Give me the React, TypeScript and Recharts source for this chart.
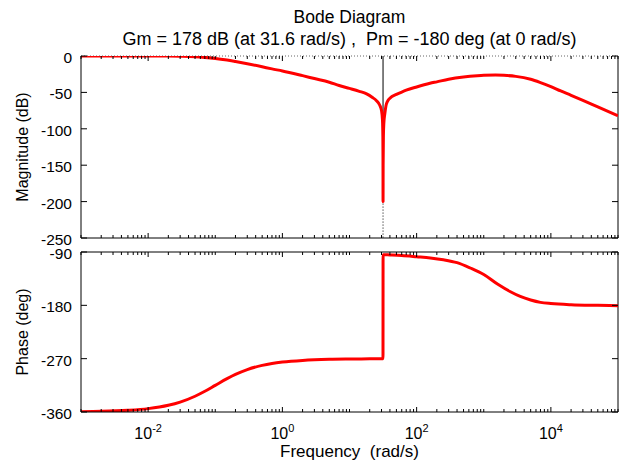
import React from 'react';
import { LineChart, Line, XAxis, YAxis, ReferenceLine } from 'recharts';

// ---- data ----
const magFreq = [
  0.001, 0.002, 0.005, 0.01, 0.02, 0.03, 0.05, 0.07, 0.1, 0.15, 0.2, 0.3, 0.5, 0.7,
  1, 2, 3, 5, 7, 10, 14, 18, 22, 25, 28, 30, 31, 31.4, 31.55, 31.62, 31.7, 32, 32.5,
  33.5, 35, 37, 40, 50, 60, 70, 100, 158, 200, 300, 500, 800, 1000, 1500, 2000, 3000,
  5000, 7000, 10000, 14000, 20000, 30000, 50000, 100000,
];
const magDb = [
  0, 0, -0.01, -0.04, -0.17, -0.4, -1.0, -1.9, -3.3, -5.6, -7.6, -10.6, -14.8, -17.7,
  -20.5, -27, -31, -36, -40.5, -44.5, -48.5, -52, -57, -61, -67, -75, -88, -110, -140, -200, -150, -110, -92,
  -80, -68, -62, -58, -52.7, -49.5, -47, -42.5, -37.5, -35.5, -32, -29, -27.2, -26.6, -26.2, -26.6, -28,
  -32, -36.5, -42, -48, -54, -61, -70, -82,
];
const phaseFreq = [
  0.001, 0.002, 0.005, 0.01, 0.02, 0.03, 0.05, 0.07, 0.1, 0.15, 0.2, 0.3, 0.5, 0.7,
  1, 2, 3, 5, 10, 20, 31.55, 31.65, 40, 60, 100, 160, 250, 400, 630, 1000, 1600, 2500,
  3500, 5000, 7000, 10000, 20000, 50000, 100000,
];
const phaseDeg = [
  -359.4, -358.9, -357.1, -354.3, -348.7, -343.3, -333.4, -325, -315, -303.7, -296.6, -288.4, -281.3, -278.1,
  -275.7, -272.9, -271.9, -271.1, -270.6, -270.3, -270.2, -94.5, -95, -96, -98, -100, -103, -108, -117, -128, -144, -157,
  -165, -171, -175, -177, -179, -180, -180.5,
];
const magTicks = [0, -50, -100, -150, -200, -250];
const phaseTicks = [-90, -180, -270, -360];
const decades = [-3, -2, -1, 0, 1, 2, 3, 4];
const labeledDecades = [-2, 0, 2, 4];
const minorMultipliers = [1, 2, 3, 4, 5, 6, 7, 8, 9];
const crossoverFreq = 31.6;
const gainAtCrossover = -178;
const titleText = 'Bode Diagram';
const subtitleText = 'Gm = 178 dB (at 31.6 rad/s) ,  Pm = -180 deg (at 0 rad/s)';
const magLabel = 'Magnitude (dB)';
const phaseLabel = 'Phase (deg)';
const freqLabel = 'Frequency  (rad/s)';

// ---- layout ----
const W = 626;
const H = 463;
const PLOT_L = 81;
const PLOT_R = 618;
const MAG_T = 56;
const MAG_B = 238;
const PH_T = 252;
const PH_B = 412;
const FONT = '"Liberation Sans", Arial, Helvetica, sans-serif';

const magData = magFreq.map((f, i) => ({ f, v: magDb[i] }));
const phaseData = phaseFreq.map((f, i) => ({ f, v: phaseDeg[i] }));
const freqTicks = decades
  .flatMap((n) => minorMultipliers.map((k) => Number((k * Math.pow(10, n)).toPrecision(6))))
  .concat([100000]);

const makeXTick = (top: number, showLabels: boolean) => (props: any) => {
  const { x, y, payload } = props;
  const v = payload.value;
  const lg = Math.log10(v);
  const dec = Math.round(lg);
  const isDecade = Math.abs(lg - dec) < 1e-6;
  const major = isDecade && dec % 2 === 0;
  const len = major ? 5 : 3;
  return (
    <g>
      <line x1={x} x2={x} y1={y} y2={y - len} stroke="#000" strokeWidth={1} />
      <line x1={x} x2={x} y1={top} y2={top + len} stroke="#000" strokeWidth={1} />
      {showLabels && major && labeledDecades.includes(dec) && (
        <text x={x} y={y + 27} textAnchor="middle" fontSize={16} fontFamily={FONT} fill="#000">
          10
          <tspan dy={-7} fontSize={11}>
            {String(dec)}
          </tspan>
        </text>
      )}
    </g>
  );
};

const yTick = (props: any) => {
  const { x, y, payload } = props;
  return (
    <g>
      <line x1={x} x2={x + 6} y1={y} y2={y} stroke="#000" strokeWidth={1} />
      <line x1={PLOT_R - 6} x2={PLOT_R} y1={y} y2={y} stroke="#000" strokeWidth={1} />
      <text x={x - 9} y={y + 1.5} dy="0.36em" textAnchor="end" fontSize={15.5} fontFamily={FONT} fill="#000">
        {payload.value}
      </text>
    </g>
  );
};

export default function App() {
  return (
    <div style={{ position: 'absolute', left: 0, top: 0, width: W, height: H, background: '#fff' }}>
      <div style={{ position: 'absolute', left: 0, top: 0 }}>
        <LineChart width={W} height={MAG_B + 24} data={magData} margin={{ top: MAG_T, right: W - PLOT_R, left: 0, bottom: 0 }}>
          <XAxis
            dataKey="f"
            type="number"
            scale="log"
            domain={[0.001, 100000]}
            allowDataOverflow
            ticks={freqTicks}
            interval={0}
            height={24}
            tickSize={0}
            tickMargin={0}
            tickLine={false}
            axisLine={{ stroke: '#000' }}
            tick={makeXTick(MAG_T, false)}
          />
          <YAxis
            type="number"
            domain={[-250, 0]}
            allowDataOverflow
            ticks={magTicks}
            interval={0}
            width={PLOT_L}
            tickSize={0}
            tickMargin={0}
            tickLine={false}
            axisLine={{ stroke: '#000' }}
            tick={yTick}
          />
          <ReferenceLine y={0} stroke="#666" strokeDasharray="1 2" />
          <ReferenceLine x={100000} stroke="#000" />
          <ReferenceLine
            segment={[{ x: crossoverFreq, y: 0 }, { x: crossoverFreq, y: gainAtCrossover }]}
            stroke="#000"
          />
          <ReferenceLine
            segment={[{ x: crossoverFreq, y: gainAtCrossover }, { x: crossoverFreq, y: -250 }]}
            stroke="#000"
            strokeDasharray="1 2"
          />
          <Line
            dataKey="v"
            type="monotoneX"
            stroke="#ff0000"
            strokeWidth={3}
            dot={false}
            isAnimationActive={false}
            strokeLinejoin="round"
          />
        </LineChart>
      </div>
      <div style={{ position: 'absolute', left: 0, top: 0 }}>
        <LineChart width={W} height={H} data={phaseData} margin={{ top: PH_T, right: W - PLOT_R, left: 0, bottom: 0 }}>
          <XAxis
            dataKey="f"
            type="number"
            scale="log"
            domain={[0.001, 100000]}
            allowDataOverflow
            ticks={freqTicks}
            interval={0}
            height={H - PH_B}
            tickSize={0}
            tickMargin={0}
            tickLine={false}
            axisLine={{ stroke: '#000' }}
            tick={makeXTick(PH_T, true)}
          />
          <YAxis
            type="number"
            domain={[-360, -90]}
            allowDataOverflow
            ticks={phaseTicks}
            interval={0}
            width={PLOT_L}
            tickSize={0}
            tickMargin={0}
            tickLine={false}
            axisLine={{ stroke: '#000' }}
            tick={yTick}
          />
          <ReferenceLine y={-90} stroke="#000" />
          <ReferenceLine x={100000} stroke="#000" />
          <Line
            dataKey="v"
            type="monotoneX"
            stroke="#ff0000"
            strokeWidth={3}
            dot={false}
            isAnimationActive={false}
            strokeLinejoin="round"
          />
        </LineChart>
      </div>
      <svg
        width={W}
        height={H}
        style={{ position: 'absolute', left: 0, top: 0, pointerEvents: 'none' }}
        fontFamily={FONT}
      >
        <text x={(PLOT_L + PLOT_R) / 2} y={23} textAnchor="middle" fontSize={17.5} fill="#000">
          {titleText}
        </text>
        <text x={(PLOT_L + PLOT_R) / 2} y={45} textAnchor="middle" fontSize={18} fill="#000" style={{ whiteSpace: 'pre' }}>
          {subtitleText}
        </text>
        <text
          x={28}
          y={(MAG_T + MAG_B) / 2}
          textAnchor="middle"
          fontSize={16}
          fill="#000"
          transform={`rotate(-90 28 ${(MAG_T + MAG_B) / 2})`}
        >
          {magLabel}
        </text>
        <text
          x={28}
          y={(PH_T + PH_B) / 2}
          textAnchor="middle"
          fontSize={16}
          fill="#000"
          transform={`rotate(-90 28 ${(PH_T + PH_B) / 2})`}
        >
          {phaseLabel}
        </text>
        <text x={(PLOT_L + PLOT_R) / 2} y={457} textAnchor="middle" fontSize={17} fill="#000" style={{ whiteSpace: 'pre' }}>
          {freqLabel}
        </text>
      </svg>
    </div>
  );
}
